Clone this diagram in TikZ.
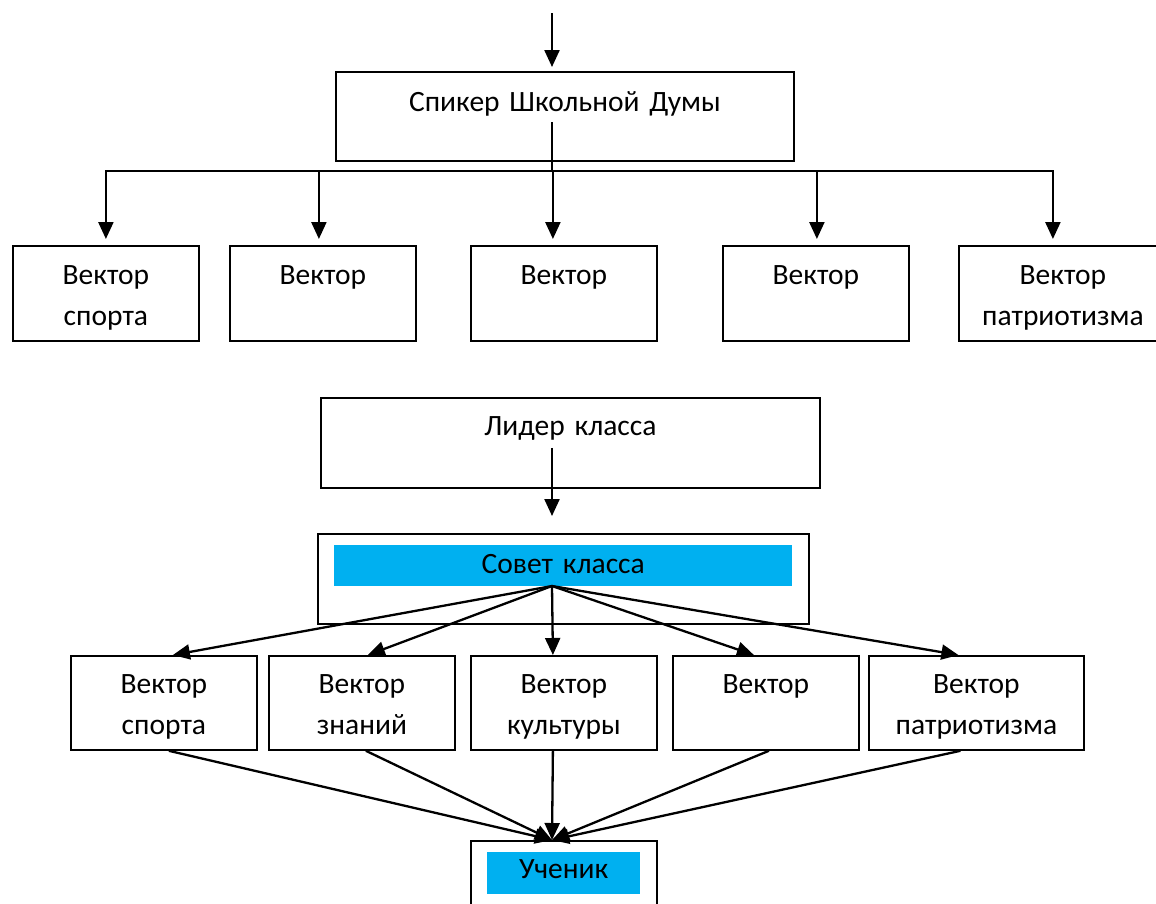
\documentclass[tikz,border=0pt]{standalone}
\usepackage{fontspec}
\setmainfont[WordSpace=0.8]{Carlito}
\usetikzlibrary{arrows.meta}
\definecolor{barblue}{HTML}{00B0F0}
\tikzset{
  cell/.style n args={3}{draw, line width=1.8pt, anchor=north west, inner sep=0pt,
    text width=#1, align=center, text height=#2, text depth=#3},
  bar/.style n args={3}{fill=barblue, anchor=north west, inner sep=0pt,
    text width=#1, align=center, text height=#2, text depth=#3},
  frame/.style 2 args={draw, line width=1.8pt, anchor=north west, inner sep=0pt,
    minimum width=#1, minimum height=#2},
  wire/.style={line width=2.3pt, line cap=rect},
  link/.style={line width=2.3pt, -{Triangle[length=17pt,width=15pt]}}
}
\begin{document}
\begin{tikzpicture}[x=1pt, y=-1pt, font=\fontsize{29.5}{41}\selectfont]
    \useasboundingbox (0,0) rectangle (1156,903);

    % Speaker of the School Duma and the first row of vectors
    \node[cell={458pt}{40pt}{49pt}] (speaker) at (335,71) {Спикер Школьной Думы};
    \node[cell={186pt}{39pt}{56pt}] (v1) at (12,245) {Вектор\\спорта};
    \node[cell={186pt}{39pt}{56pt}] (v2) at (229,245) {Вектор};
    \node[cell={186pt}{39pt}{56pt}] (v3) at (470,245) {Вектор};
    \node[cell={186pt}{39pt}{56pt}] (v4) at (722,245) {Вектор};
    \node[cell={208pt}{39pt}{56pt}] (v5) at (958,245) {Вектор\\патриотизма};

    \coordinate (entry) at (552,13);
    \coordinate (bus) at (552,171);
    \draw[link] (entry) -- ([yshift=4pt]speaker.north -| entry);
    \draw[wire] ([yshift=39pt]speaker.south -| bus) -- (bus);
    \draw[wire] (v1.north |- bus) -- ([xshift=-10pt]v5.north |- bus);
    \foreach \v/\dx in {v1/0, v2/-4, v3/-11, v4/1, v5/-10}
      \draw[link] ([xshift=\dx pt]\v.north |- bus) -- ([xshift=\dx pt,yshift=6pt]\v.north);

    % Class leader, class council and the second row of vectors
    \node[cell={499pt}{38pt}{52pt}] (leader) at (320,397) {Лидер класса};
    \node[frame={491pt}{90pt}] (council) at (317,533) {};
    \node[bar={458pt}{28pt}{13pt}] (councilbar) at (334,545) {Совет класса};

    \node[cell={186pt}{38pt}{56pt}] (w1) at (70,655) {Вектор\\спорта};
    \node[cell={186pt}{38pt}{56pt}] (w2) at (268,655) {Вектор\\знаний};
    \node[cell={186pt}{38pt}{56pt}] (w3) at (470,655) {Вектор\\культуры};
    \node[cell={186pt}{38pt}{56pt}] (w4) at (672,655) {Вектор};
    \node[cell={215pt}{38pt}{56pt}] (w5) at (868,655) {Вектор\\патриотизма};

    % Pupil
    \node[frame={186pt}{80pt}] (pupil) at (470,840) {};
    \node[bar={153pt}{26pt}{16pt}] (pupilbar) at (487,852) {Ученик};

    \coordinate (hub) at (552,586);
    \coordinate (sink) at (552,840);
    \draw[link] ([yshift=41pt]leader.south -| hub) -- ([yshift=17pt]council.north -| hub);
    \foreach \w/\dx in {w1/9, w2/6, w3/-11, w4/-12, w5/-18}
      \draw[link] (hub) -- ([xshift=\dx pt]\w.north);
    \foreach \w/\dx in {w1/5, w2/4, w3/-11, w4/3, w5/-16}
      \draw[link] ([xshift=\dx pt]\w.south) -- (sink);
\end{tikzpicture}
\end{document}
